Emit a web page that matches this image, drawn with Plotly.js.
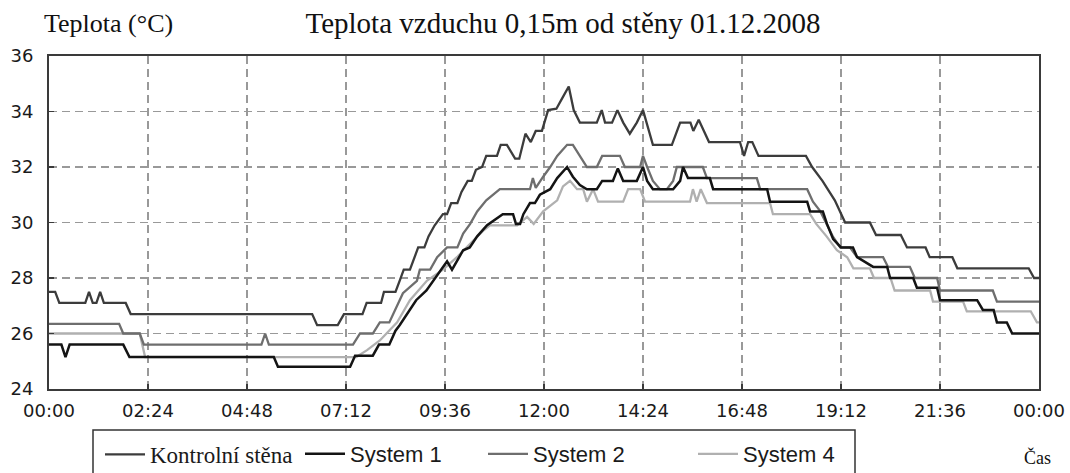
<!DOCTYPE html>
<html>
<head>
<meta charset="utf-8">
<script src="https://cdn.plot.ly/plotly-3.0.1.min.js"></script>
<style>html,body{margin:0;padding:0;background:#fff;}</style>
</head>
<body>
<div id="chart" style="width:1070px;height:473px;"></div>
<script>
// x tick positions (hours) and labels
const tickHours = [0, 2.4, 4.8, 7.2, 9.6, 12, 14.4, 16.8, 19.2, 21.6, 24];
const tickLabels = ["00:00","02:24","04:48","07:12","09:36","12:00","14:24","16:48","19:12","21:36","00:00"];
const yTicks = [24, 26, 28, 30, 32, 34, 36];

const seriesNames = ["Kontrolní stěna", "System 1", "System 2", "System 4"];

// Kontrolní stěna
const kontrolniT = [0,0.15,0.25,0.88,0.97,1.06,1.15,1.24,1.33,1.86,1.98,6.38,6.5,7.0,7.15,7.6,7.7,8.05,8.12,8.4,8.5,8.6,8.75,8.85,8.95,9.1,9.2,9.35,9.55,9.65,9.75,9.9,10.0,10.15,10.25,10.35,10.5,10.6,10.86,10.95,11.1,11.3,11.4,11.55,11.68,11.8,11.95,12.1,12.3,12.45,12.6,12.72,12.87,13.28,13.4,13.48,13.65,13.78,13.92,14.08,14.25,14.4,14.55,14.64,15.1,15.3,15.55,15.62,15.75,16.0,16.75,16.85,16.95,17.05,17.2,18.35,18.5,18.75,19.05,19.3,19.9,20.05,20.65,20.8,21.25,21.35,21.9,22.02,23.75,23.88,24];
const kontrolniV = [27.5,27.5,27.1,27.1,27.5,27.1,27.1,27.5,27.1,27.1,26.7,26.7,26.3,26.3,26.7,26.7,27.1,27.1,27.5,27.5,27.9,28.3,28.3,28.7,29.1,29.1,29.5,29.9,30.3,30.3,30.7,30.7,31.1,31.5,31.5,31.9,32.0,32.4,32.4,32.8,32.8,32.3,32.3,33.2,32.9,33.3,33.3,34.05,34.1,34.5,34.9,34.05,33.6,33.6,34.05,33.6,33.6,34.05,33.6,33.2,33.6,34.05,33.3,32.8,32.8,33.6,33.6,33.3,33.7,32.9,32.9,32.4,32.9,32.9,32.4,32.4,32.0,31.5,30.8,30.0,30.0,29.55,29.55,29.1,29.1,28.75,28.75,28.35,28.35,28.0,28.0];

// System 1
const sys1T = [0,0.3,0.4,0.5,1.8,1.95,5.45,5.55,7.3,7.42,7.85,8.0,8.25,8.4,8.5,8.68,8.9,9.15,9.45,9.65,9.77,9.88,10.04,10.2,10.38,10.62,11.0,11.25,11.32,11.42,11.5,11.66,11.78,11.9,12.15,12.32,12.56,12.7,12.87,13.04,13.28,13.41,13.67,13.79,13.92,14.25,14.4,14.5,14.64,15.13,15.3,15.37,15.49,16.02,16.1,17.41,17.48,18.38,18.45,18.76,18.86,19.01,19.2,19.49,19.59,19.98,20.32,20.39,20.95,21.04,21.53,21.6,22.5,22.64,22.9,22.98,23.22,23.35,24];
const sys1V = [25.6,25.6,25.15,25.6,25.6,25.15,25.15,24.8,24.8,25.2,25.2,25.6,25.6,26.1,26.3,26.7,27.2,27.55,28.2,28.6,28.3,28.6,29.0,29.1,29.5,29.9,30.3,30.3,29.95,29.95,30.3,30.7,30.7,31.0,31.2,31.6,32.0,31.65,31.35,31.2,31.2,31.5,31.5,31.95,31.5,31.5,32.0,31.5,31.2,31.2,31.5,32.0,31.6,31.6,31.2,31.2,30.75,30.75,30.4,30.4,29.95,29.4,29.1,29.1,28.75,28.4,28.4,28.0,28.0,27.65,27.65,27.2,27.2,26.85,26.85,26.4,26.4,26.0,26.0];

// System 2
const sys2T = [0,1.7,1.8,2.2,2.3,5.15,5.24,5.33,7.37,7.54,7.85,8.02,8.25,8.34,8.58,8.92,8.99,9.24,9.41,9.65,9.9,10.04,10.21,10.38,10.6,10.93,11.66,11.73,11.8,11.98,12.15,12.32,12.56,12.7,12.87,13.04,13.28,13.41,13.84,13.96,14.33,14.4,14.5,14.64,14.81,14.98,15.13,15.22,15.85,15.95,17.16,17.24,18.38,18.52,18.7,18.86,19.0,19.18,19.42,19.59,20.22,20.34,20.87,20.99,21.53,21.6,22.88,22.98,24];
const sys2V = [26.35,26.35,26.0,26.0,25.6,25.6,26.0,25.6,25.6,26.0,26.0,26.4,26.4,26.7,27.45,27.9,28.3,28.3,28.75,29.1,29.1,29.6,29.95,30.4,30.8,31.2,31.2,31.6,31.25,31.65,32.0,32.4,32.8,32.8,32.4,32.0,32.0,32.4,32.4,32.0,32.0,32.4,32.0,31.5,31.2,31.2,31.5,32.0,32.0,31.6,31.6,31.2,31.2,30.75,30.4,29.95,29.5,29.1,29.1,28.75,28.75,28.4,28.4,28.0,28.0,27.55,27.55,27.15,27.15];

// System 4
const sys4T = [0,2.2,2.33,7.45,7.71,8.02,8.44,8.75,9.16,9.55,9.89,10.21,10.52,10.69,11.35,11.59,11.75,11.98,12.32,12.46,12.63,12.8,12.95,13.04,13.19,13.31,13.92,14.04,14.33,14.45,15.54,15.61,15.7,15.8,15.95,17.48,17.55,18.45,18.6,18.85,19.1,19.35,19.5,19.9,20.0,20.4,20.5,21.36,21.43,22.16,22.25,23.8,23.95,24];
const sys4V = [26.0,26.0,25.15,25.15,25.4,25.75,26.4,27.2,27.9,28.3,28.75,29.25,29.7,29.9,29.9,30.2,29.95,30.4,30.8,31.3,31.5,31.2,31.2,30.75,31.2,30.75,30.75,31.2,31.2,30.75,30.75,31.2,30.75,31.2,30.7,30.7,30.3,30.3,29.95,29.5,29.0,28.75,28.35,28.35,28.0,28.0,27.55,27.55,27.15,27.15,26.8,26.8,26.4,26.4];

const W = 1070, H = 473;
const L = 49, R = 1039, T = 56, B = 389;
const pw = R - L, ph = B - T;
const px = x => (x - L) / pw;
const py = y => (B - y) / ph;

const serif = 'Liberation Serif, Times New Roman, serif';
const sans = 'DejaVu Sans, Arial, sans-serif';
const arial = 'Liberation Sans, Arial, sans-serif';

function tr(t, v, name, color, width, rank, lw, legendId) {
  return {x: t, y: v, type: 'scatter', mode: 'lines', name: name,
          line: {color: color, width: width}, legendrank: rank, legendwidth: lw,
          legend: legendId, hoverinfo: 'skip'};
}

const data = [
  tr(sys4T, sys4V, seriesNames[3], '#b0b0b0', 2.3, 4, 110, 'legend2'),
  tr(sys2T, sys2V, seriesNames[2], '#6e6e6e', 2.3, 3, 155, 'legend2'),
  tr(kontrolniT, kontrolniV, seriesNames[0], '#3c3c3c', 2.3, 1, 150, 'legend'),
  tr(sys1T, sys1V, seriesNames[1], '#141414', 2.5, 2, 128, 'legend2')
];

const legendCommon = {orientation: 'h', xanchor: 'left', yanchor: 'top',
  bgcolor: 'rgba(0,0,0,0)', borderwidth: 0, itemwidth: 40, traceorder: 'normal'};

const layout = {
  width: W, height: H,
  margin: {l: L, r: W - R, t: T, b: H - B, pad: 0, autoexpand: false},
  paper_bgcolor: '#ffffff', plot_bgcolor: '#ffffff',
  title: {text: 'Teplota vzduchu 0,15m od stěny 01.12.2008',
          font: {family: serif, size: 29, color: '#111'},
          x: 563 / W, xanchor: 'center', xref: 'container',
          y: 1 - 23 / H, yanchor: 'middle', yref: 'container'},
  xaxis: {range: [0, 24], tickvals: tickHours, ticktext: tickLabels,
          showgrid: true, gridcolor: '#999', gridwidth: 1.2, griddash: '8px,5px',
          showline: true, linecolor: '#3a3a3a', linewidth: 2, mirror: true,
          ticks: 'inside', ticklen: 5, tickcolor: '#3a3a3a', tickwidth: 1.5,
          tickfont: {family: sans, size: 18, color: '#1a1a1a'},
          ticklabelstandoff: 4, zeroline: false, fixedrange: true},
  yaxis: {range: [24, 36], tickvals: yTicks,
          showgrid: true, gridcolor: '#999', gridwidth: 1.2, griddash: '8px,5px',
          showline: true, linecolor: '#3a3a3a', linewidth: 2, mirror: true,
          ticks: 'inside', ticklen: 5, tickcolor: '#3a3a3a', tickwidth: 1.5,
          tickfont: {family: sans, size: 18, color: '#1a1a1a'},
          ticklabelstandoff: 10, zeroline: false, fixedrange: true},
  showlegend: true,
  legend: Object.assign({}, legendCommon, {x: px(100), y: py(433),
           font: {family: serif, size: 23, color: '#1a1a1a'}}),
  legend2: Object.assign({}, legendCommon, {x: px(300), y: py(433),
           font: {family: arial, size: 22, color: '#1a1a1a'}}),
  shapes: [
    {type: 'rect', xref: 'paper', yref: 'paper',
     x0: px(93), x1: px(855), y0: py(430), y1: py(490),
     line: {color: '#333', width: 1.5}, fillcolor: 'rgba(0,0,0,0)', layer: 'below'}
  ],
  annotations: [
    {text: 'Teplota (°C)', xref: 'paper', yref: 'paper', x: px(42), y: py(24),
     xanchor: 'left', yanchor: 'middle', showarrow: false,
     font: {family: serif, size: 26, color: '#111'}},
    {text: 'Čas', xref: 'paper', yref: 'paper', x: px(1037), y: py(457),
     xanchor: 'center', yanchor: 'middle', showarrow: false,
     font: {family: serif, size: 18, color: '#111'}}
  ]
};

Plotly.newPlot('chart', data, layout, {displayModeBar: false, staticPlot: true});
</script>
</body>
</html>
